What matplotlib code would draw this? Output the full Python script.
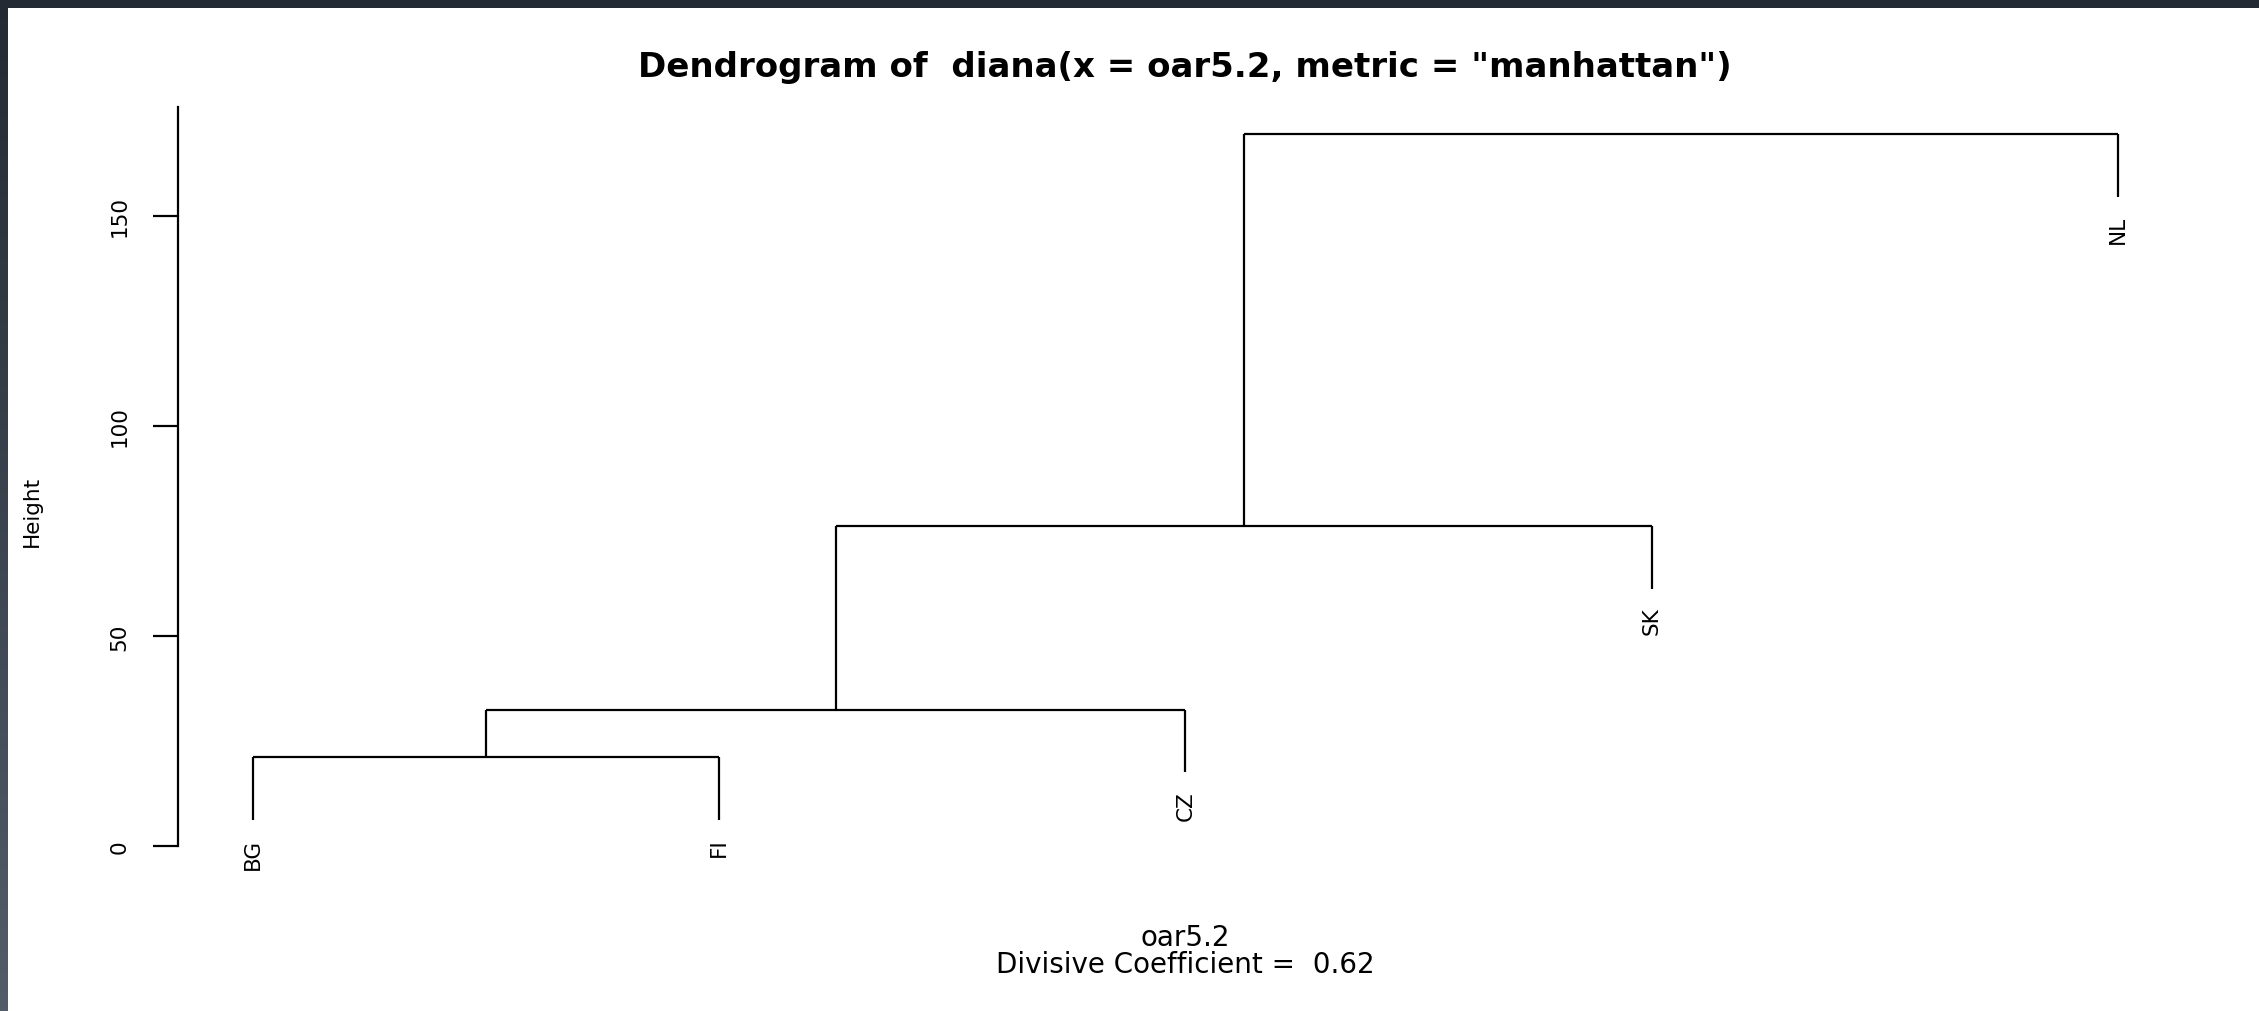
import numpy as np
import matplotlib
matplotlib.use("Agg")
import matplotlib.pyplot as plt

# diana result
labels = ["BG", "FI", "CZ", "SK", "NL"]
# R style merge matrix: negative = leaf, positive = earlier merge
merge = [(-1, -2), (1, -3), (2, -4), (3, -5)]
heights = [21.2, 32.4, 76.1, 169.3]
yticks = [0, 50, 100, 150]
title = 'Dendrogram of  diana(x = oar5.2, metric = "manhattan")'
xlab = "oar5.2"
sub = "Divisive Coefficient =  0.62"
ylab = "Height"

W, H = 2259, 1012
fig = plt.figure(figsize=(W / 100, H / 100), dpi=100)
fig.patch.set_facecolor("white")

# dark screenshot border on top and left
band = fig.add_axes([0, 0, 8 / W, 1])
grad = np.linspace(0, 1, 256).reshape(-1, 1)
band.imshow(grad, aspect="auto", cmap=matplotlib.colors.LinearSegmentedColormap.from_list(
    "b", ["#232a33", "#525d68"]), extent=(0, 1, 0, 1), origin="upper")
band.axis("off")
top = fig.add_axes([0, 1 - 9 / H, 1, 9 / H])
top.set_facecolor("#232a33")
top.set_xticks([]); top.set_yticks([])
for s in top.spines.values():
    s.set_visible(False)

ax = fig.add_axes([178 / W, (H - 848) / H, (2193 - 178) / W, 740 / H])

n = len(labels)
hang = 0.1 * (max(heights) - min(heights))
pos = {}   # x of each merge
leaf_x = {i + 1: i + 1 for i in range(n)}
lw = 1.6
for k, (a, b) in enumerate(merge):
    h = heights[k]
    xs = []
    for c in (a, b):
        if c < 0:
            x = leaf_x[-c]
            bottom = h - hang
            # leaves hang below their parent
            ax.plot([x, x], [h, bottom], color="black", lw=lw, solid_capstyle="butt")
            ax.annotate(labels[-c - 1], (x, bottom), xytext=(0, -13), textcoords="offset points",
                        rotation=90, ha="center", va="top", fontsize=15.5)
        else:
            x = pos[c]
            ax.plot([x, x], [h, heights[c - 1]], color="black", lw=lw, solid_capstyle="butt")
        xs.append(x)
    ax.plot(xs, [h, h], color="black", lw=lw, solid_capstyle="butt")
    pos[k + 1] = np.mean(xs)

lo = min(heights) - hang
hi = max(heights)
ext = 0.04 * (hi - lo)
ax.set_ylim(lo - ext, hi + ext)
ax.set_xlim(1 - 0.04 * (n - 1), n + 0.04 * (n - 1))

for s in ["top", "right", "bottom"]:
    ax.spines[s].set_visible(False)
ax.spines["left"].set_bounds(0, hi + ext)
ax.spines["left"].set_linewidth(lw)
ax.set_xticks([])
ax.set_yticks(yticks)
ax.tick_params(axis="y", length=18, width=lw, pad=17, labelsize=15.5, labelrotation=90)
for t in ax.get_yticklabels():
    t.set_va("center")

fig.text(1185 / W, 1 - 68 / H, title, ha="center", va="center", fontsize=24.5, fontweight="bold")
fig.text(1185 / W, 1 - 938 / H, xlab, ha="center", va="center", fontsize=20)
fig.text(1185 / W, 1 - 965 / H, sub, ha="center", va="center", fontsize=20)
fig.text(32 / W, 1 - 511 / H, ylab, ha="center", va="center", fontsize=15.5, rotation=90)

fig.savefig("out.png", dpi=100)
